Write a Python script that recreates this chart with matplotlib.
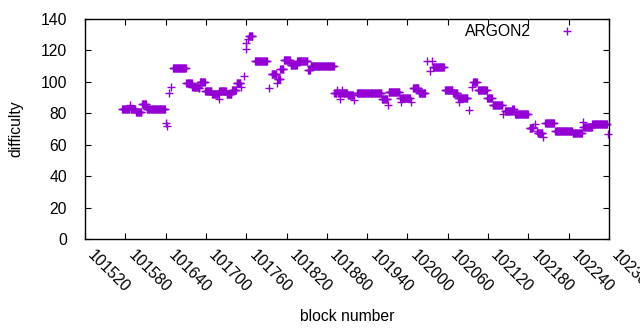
import numpy as np
import matplotlib
matplotlib.use("Agg")
import matplotlib.pyplot as plt

# 読み取ったデータ（ブロック番号の区間ごとの difficulty）
run_start = [101575, 101587, 101588, 101596, 101605, 101612, 101641, 101642, 101645, 101648,
             101651, 101671, 101680, 101689, 101691, 101699, 101709, 101719, 101720, 101731,
             101739, 101746, 101752, 101757, 101759, 101760, 101762, 101764, 101773, 101794,
             101798, 101806, 101807, 101811, 101816, 101826, 101836, 101852, 101856, 101891,
             101895, 101896, 101900, 101901, 101903, 101904, 101911, 101920, 101925, 101962,
             101971, 101972, 101989, 101990, 101991, 102006, 102008, 102017, 102029, 102034,
             102037, 102038, 102056, 102068, 102075, 102076, 102077, 102092, 102096, 102098,
             102105, 102119, 102127, 102142, 102145, 102156, 102160, 102182, 102187, 102190,
             102193, 102194, 102202, 102205, 102220, 102246, 102261, 102262, 102275, 102299]
run_end = [101586, 101587, 101595, 101604, 101611, 101639, 101641, 101642, 101645, 101648,
           101670, 101679, 101688, 101690, 101698, 101708, 101718, 101719, 101730, 101738,
           101745, 101751, 101752, 101757, 101759, 101760, 101762, 101769, 101791, 101794,
           101805, 101806, 101810, 101815, 101825, 101835, 101851, 101855, 101890, 101894,
           101895, 101899, 101900, 101902, 101903, 101910, 101919, 101920, 101961, 101970,
           101971, 101988, 101989, 101990, 102004, 102006, 102016, 102026, 102029, 102034,
           102037, 102054, 102067, 102074, 102075, 102076, 102089, 102092, 102096, 102103,
           102118, 102126, 102141, 102142, 102155, 102158, 102179, 102186, 102187, 102190,
           102193, 102201, 102202, 102218, 102245, 102260, 102261, 102274, 102297, 102299]
run_value = [83, 85, 83, 81, 86, 83, 74, 72, 93, 97,
             109, 99, 97, 96, 100, 94, 92, 89, 94, 92,
             95, 99, 97, 104, 121, 124.5, 127, 129.5, 113, 96,
             105, 99, 102, 108, 114, 111, 113.5, 107.5, 110, 93,
             95, 93, 89, 93, 95, 93, 91.5, 88.5, 92.7, 89,
             85, 93.3, 90, 87.5, 90, 87.5, 96, 92.7, 113.3, 107,
             113.3, 109.3, 94.6, 92.7, 89.5, 87, 89.5, 82, 96.5, 100,
             95, 90, 85, 79.5, 81.5, 83, 79.5, 70.5, 71.5, 73,
             69, 67.6, 65, 73.6, 68.7, 67.6, 74.7, 71.5, 73, 66.8]

# 区間を1ブロックごとの点に展開
blocks = np.concatenate([np.arange(s, e + 1) for s, e in zip(run_start, run_end)])
difficulty = np.concatenate([np.full(e - s + 1, v, dtype=float)
                             for s, e, v in zip(run_start, run_end, run_value)])

xticks = np.arange(101520, 102301, 60)
yticks = np.arange(0, 141, 20)

plt.rcParams["font.family"] = ["Liberation Sans", "DejaVu Sans"]
plt.rcParams["font.size"] = 11.3

fig = plt.figure(figsize=(6.4, 3.3), dpi=100)
ax = fig.add_axes([85 / 640, 1 - 239 / 330, 524 / 640, 220 / 330])

ax.plot(blocks, difficulty, linestyle="none", marker="+", markersize=6.2,
        markeredgewidth=1.0, color="#9400d3", label="ARGON2", clip_on=False)

ax.set_xlim(101520, 102300)
ax.set_ylim(0, 140)
ax.set_xticks(xticks)
ax.set_yticks(yticks)
ax.set_xticklabels([str(t) for t in xticks], rotation=-45, ha="left", va="top",
                   rotation_mode="default")
ax.tick_params(direction="in", length=4, width=0.8, top=True, right=True,
               labelsize=11.3, colors="black")
ax.tick_params(axis="y", pad=13)
ax.tick_params(axis="x", pad=6)
for sp in ax.spines.values():
    sp.set_linewidth(1.0)

ax.set_xlabel("block number", labelpad=10)
ax.set_ylabel("difficulty", labelpad=12)

ax.legend(loc="center right", bbox_to_anchor=(583 / 640, 1 - 32 / 330),
          bbox_transform=fig.transFigure, frameon=False, markerfirst=False,
          borderpad=0, borderaxespad=0, handlelength=2.0, handletextpad=1.3,
          fontsize=11.3)

fig.savefig("out.png", dpi=100)
